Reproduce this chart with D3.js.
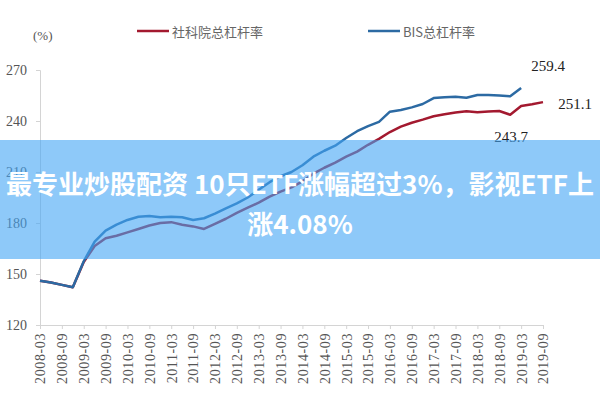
<!DOCTYPE html>
<html>
<head>
<meta charset="utf-8">
<script src="https://cdn.jsdelivr.net/npm/d3@7"></script>
<style>
  html, body { margin: 0; padding: 0; background: #fff; }
  svg { display: block; }
</style>
</head>
<body>
<svg id="chart" width="600" height="400"></svg>
<script>
const quarters = [
  "2008-03","2008-06","2008-09","2008-12","2009-03","2009-06","2009-09","2009-12",
  "2010-03","2010-06","2010-09","2010-12","2011-03","2011-06","2011-09","2011-12",
  "2012-03","2012-06","2012-09","2012-12","2013-03","2013-06","2013-09","2013-12",
  "2014-03","2014-06","2014-09","2014-12","2015-03","2015-06","2015-09","2015-12",
  "2016-03","2016-06","2016-09","2016-12","2017-03","2017-06","2017-09","2017-12",
  "2018-03","2018-06","2018-09","2018-12","2019-03","2019-06","2019-09"
];
const tickLabels = [
  "2008-03","2008-09","2009-03","2009-09","2010-03","2010-09","2011-03","2011-09",
  "2012-03","2012-09","2013-03","2013-09","2014-03","2014-09","2015-03","2015-09",
  "2016-03","2016-09","2017-03","2017-09","2018-03","2018-09","2019-03","2019-09"
];
const yTicks = [120, 150, 180, 210, 240, 270];
const seriesNames = ["社科院总杠杆率", "BIS总杠杆率"];
const cassValues = [
  146, 145, 143.6, 142.2, 157, 166.5, 171, 172.5,
  174.5, 176.5, 178.5, 180, 180.5, 179, 178, 176.5,
  179.5, 182.5, 186, 189, 192, 195.5, 198.5, 201,
  204.5, 209, 212.5, 215.5, 219, 222, 226, 229.5,
  233.5, 236.7, 239, 240.8, 242.8, 244, 245, 245.8,
  245.2, 245.6, 245.9, 243.7, 248.8, 249.8, 251.1
];
const bisValues = [
  146, 145, 143.6, 142.2, 157.5, 169, 175.5, 179,
  181.8, 183.7, 184.1, 183.4, 183.7, 183.4, 181.8, 182.8,
  185.5, 188.6, 191.5, 195, 199.5, 204, 207.5, 210,
  214, 219, 222.5, 225.5, 230, 234, 237, 239.5,
  245.5, 246.5, 248, 250, 253.5, 254, 254.3, 253.7,
  255.3, 255.3, 255, 254.5, 259.4
];
const annotations = [
  {text: "259.4", q: "2019-03", v: 259.4, dx: 27, dy: -22},
  {text: "251.1", q: "2019-09", v: 251.1, dx: 32, dy: 2},
  {text: "243.7", q: "2018-12", v: 243.7, dx: 1, dy: 22}
];
const bannerLines = ["最专业炒股配资 10只ETF涨幅超过3%，影视ETF上", "涨4.08%"];

const svg = d3.select("#chart");
const x = d3.scalePoint().domain(quarters).range([40, 543]);
const y = d3.scaleLinear().domain([120, 270]).range([325, 70]);
const serif = "'Liberation Serif', 'Times New Roman', serif";
const axisColor = "#d4d4d4";
const textColor = "#555";

// Y axis
const yAxis = svg.append("g").attr("transform", "translate(40,0)")
  .call(d3.axisLeft(y).tickValues(yTicks).tickSize(4).tickPadding(9));
yAxis.select(".domain").attr("stroke", axisColor);
yAxis.selectAll(".tick line").attr("stroke", axisColor);
yAxis.selectAll(".tick text").attr("font-family", serif).attr("font-size", 14).attr("fill", textColor);

// X axis
const xAxis = svg.append("g").attr("transform", "translate(0,325)")
  .call(d3.axisBottom(x).tickValues(tickLabels).tickSize(4).tickSizeOuter(0));
xAxis.select(".domain").attr("stroke", axisColor);
xAxis.selectAll(".tick line").attr("stroke", axisColor);
xAxis.selectAll(".tick text")
  .attr("font-family", serif).attr("font-size", 14).attr("fill", textColor)
  .attr("letter-spacing", "0.6px")
  .attr("transform", "rotate(-90)")
  .attr("text-anchor", "end")
  .attr("x", -8).attr("y", 0).attr("dy", "0.35em");

// unit label
svg.append("text").attr("x", 33).attr("y", 40).text("(%)")
  .attr("font-family", serif).attr("font-size", 13).attr("fill", textColor);

// Lines
const line = d3.line().x((d, i) => x(quarters[i])).y(d => y(d));
svg.append("path").datum(cassValues).attr("d", line)
  .attr("fill", "none").attr("stroke", "#a3192f").attr("stroke-width", 2.5).attr("stroke-linejoin", "round");
svg.append("path").datum(bisValues).attr("d", line)
  .attr("fill", "none").attr("stroke", "#2c6aa3").attr("stroke-width", 2.5).attr("stroke-linejoin", "round");

// Annotations
svg.selectAll("text.ann").data(annotations).enter().append("text")
  .attr("class", "ann")
  .attr("x", d => x(d.q) + d.dx).attr("y", d => y(d.v) + d.dy)
  .attr("text-anchor", "middle").attr("dominant-baseline", "central")
  .attr("font-family", serif).attr("font-size", 15).attr("fill", "#222")
  .text(d => d.text);

// Legend
const legend = [
  {name: seriesNames[0], color: "#a3192f", x: 137},
  {name: seriesNames[1], color: "#2c6aa3", x: 368}
];
const lg = svg.selectAll("g.lg").data(legend).enter().append("g").attr("class", "lg");
lg.append("line").attr("x1", d => d.x).attr("x2", d => d.x + 32).attr("y1", 31).attr("y2", 31)
  .attr("stroke", d => d.color).attr("stroke-width", 2.5);
lg.append("text").attr("x", d => d.x + 35).attr("y", 31).attr("dominant-baseline", "central")
  .attr("font-family", "'Noto Sans CJK SC', sans-serif").attr("font-size", 13).attr("fill", "#666")
  .text(d => d.name);

// Banner overlay
svg.append("rect").attr("x", 0).attr("y", 140).attr("width", 600).attr("height", 119)
  .attr("fill", "rgb(66,165,245)").attr("fill-opacity", 0.6);
svg.selectAll("text.banner").data(bannerLines).enter().append("text")
  .attr("class", "banner")
  .attr("x", 300).attr("y", (d, i) => 182 + i * 40)
  .attr("text-anchor", "middle").attr("dominant-baseline", "central")
  .attr("font-family", "'Noto Sans CJK SC', sans-serif").attr("font-weight", "bold")
  .attr("font-size", 26).attr("fill", "#fff")
  .text(d => d);
</script>
</body>
</html>
